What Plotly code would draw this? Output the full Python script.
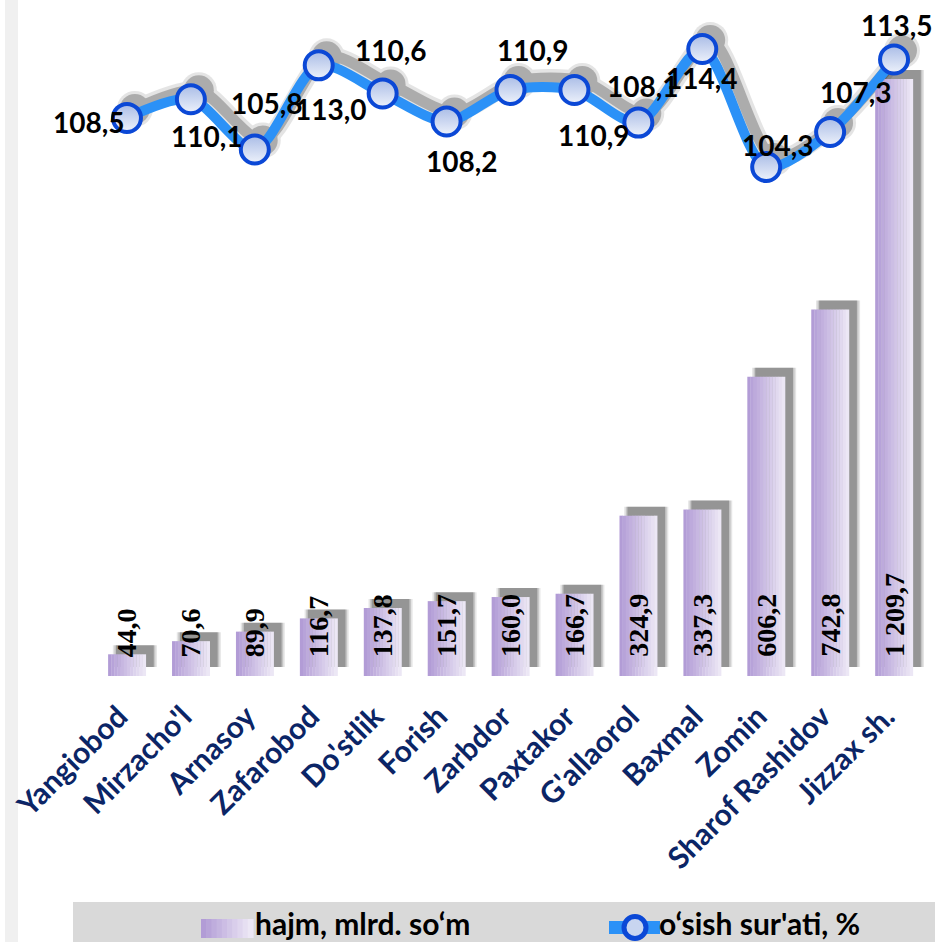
import plotly.graph_objects as go

# ---------------- data ----------------
districts = ["Yangiobod", "Mirzacho'l", "Arnasoy", "Zafarobod", "Do'stlik", "Forish",
             "Zarbdor", "Paxtakor", "G'allaorol", "Baxmal", "Zomin", "Sharof Rashidov",
             "Jizzax sh."]
volume = [44.0, 70.6, 89.9, 116.7, 137.8, 151.7, 160.0, 166.7, 324.9, 337.3, 606.2, 742.8, 1209.7]
volume_labels = ["44,0", "70,6", "89,9", "116,7", "137,8", "151,7", "160,0", "166,7",
                 "324,9", "337,3", "606,2", "742,8", "1 209,7"]
growth = [108.5, 110.1, 105.8, 113.0, 110.6, 108.2, 110.9, 110.9, 108.1, 114.4, 104.3, 107.3, 113.5]
growth_labels = ["108,5", "110,1", "105,8", "113,0", "110,6", "108,2", "110,9", "110,9",
                 "108,1", "114,4", "104,3", "107,3", "113,5"]
bar_name = "hajm, mlrd. so\u2018m"
line_name = "o\u2018sish sur'ati, %"

# label offsets (px) for the growth labels: (dx, dy) with dy upward positive
label_dx = [-38, 16, 12, 12, 8, 15, 22, 20, 5, 0, 12, 26, 3]
label_dy = [-4, -37, 46, -44, 43, -40, 40, -45, 37, -29, 22, 40, 35]

# ---------------- styling ----------------
n = len(districts)
BAR_W = 0.59
Y1_MAX = 1349.5
Y2_RANGE = [60.72, 117.74]
SHIFT_X = 0.124          # shadow offset in category units (~8px)
SHIFT_Y1 = 18.2          # shadow offset in bar units (~9px)
SHIFT_Y2 = 0.77          # shadow offset in growth units (~9px)
left_rgb = (178, 156, 214)
right_rgb = (236, 231, 245)
N_STRIPS = 12
LINE_COLOR = "#2b91f7"
MARKER_EDGE = "#0b48d6"


def strip_color(t):
    c = tuple(round(left_rgb[k] + (right_rgb[k] - left_rgb[k]) * t) for k in range(3))
    return f"rgb{c}"


fig = go.Figure()

# bar shadows (subplot x,y - drawn first, offset right/up through shifted axes)
for extra, alpha in [(0.10, 0.10), (0.05, 0.14), (0.0, 0.24)]:
    fig.add_trace(go.Bar(
        x=districts, y=volume, width=BAR_W + extra, offset=-(BAR_W + extra) / 2,
        marker=dict(color=f"rgba(0,0,0,{alpha})", line=dict(width=0)),
        xaxis="x", yaxis="y", showlegend=False, hoverinfo="skip"))

# gradient bars made of vertical strips (subplot x2,y2)
sw = BAR_W / N_STRIPS
for i in range(N_STRIPS):
    fig.add_trace(go.Bar(
        x=districts, y=volume, width=sw * 1.08, offset=-BAR_W / 2 + i * sw,
        marker=dict(color=strip_color(i / (N_STRIPS - 1)), line=dict(width=0)),
        xaxis="x2", yaxis="y2", name=bar_name, showlegend=False, hoverinfo="skip"))

# line shadow (subplot x,y3)
for w, ms, op in [(18, 36, 0.10), (11, 30, 0.24)]:
    fig.add_trace(go.Scatter(
        x=districts, y=growth, mode="lines+markers",
        line=dict(color="black", width=w, shape="spline", smoothing=0.8),
        marker=dict(color="black", size=ms),
        opacity=op, xaxis="x", yaxis="y3", showlegend=False, hoverinfo="skip"))

# growth line (subplot x2,y4)
fig.add_trace(go.Scatter(
    x=districts, y=growth, mode="lines+markers", name=line_name,
    line=dict(color=LINE_COLOR, width=10, shape="spline", smoothing=0.8),
    marker=dict(color="#a9bce6", size=28,
                gradient=dict(type="vertical", color="#eef2fb"),
                line=dict(color=MARKER_EDGE, width=4)),
    xaxis="x2", yaxis="y4", showlegend=False))

annotations = []
for d, lab in zip(districts, volume_labels):
    annotations.append(dict(
        x=d, y=0, xref="x2", yref="y2", text=lab, showarrow=False,
        textangle=-90, yanchor="bottom", xanchor="center", yshift=17,
        font=dict(family="Liberation Serif", size=28, color="black", weight="bold")))
for d, g, lab, dx, dy in zip(districts, growth, growth_labels, label_dx, label_dy):
    annotations.append(dict(
        x=d, y=g, xref="x2", yref="y4", text=lab, showarrow=False,
        xanchor="center", yanchor="middle", xshift=dx, yshift=dy,
        font=dict(family="Lato", size=28, color="black", weight="bold")))

# ---- legend (drawn manually, pixel-sized relative to the plot's bottom-left corner) ----
legend_font = dict(family="Lato", size=30, color="black", weight="bold")
annotations.append(dict(xref="paper", yref="paper", x=(250 - 90) / 836.4, y=(676 - 942) / 666,
                        xanchor="left", yanchor="bottom", borderpad=0, text=bar_name,
                        showarrow=False, font=legend_font))
annotations.append(dict(xref="paper", yref="paper", x=(657 - 90) / 836.4, y=(676 - 942) / 666,
                        xanchor="left", yanchor="bottom", borderpad=0, text=line_name,
                        showarrow=False, font=legend_font))


def px_rect(x0, x1, y0, y1, **kw):
    # pixel rectangle in figure pixels (top-left origin) -> shape anchored at the plot's bottom-left
    return dict(type="rect", xref="paper", yref="paper", xsizemode="pixel", ysizemode="pixel",
                xanchor=0, yanchor=0, x0=x0 - 90, x1=x1 - 90, y0=676 - y1, y1=676 - y0, **kw)


shapes = [
    # light strip at the left edge
    px_rect(0, 13, 0, 942, fillcolor="#f0f0f0", line=dict(width=0), layer="below"),
    # legend band
    px_rect(68, 935, 902, 942, fillcolor="#d9d9d9", line=dict(width=0), layer="below"),
]
NS = 10
for i in range(NS):
    x0 = 196 + i * 52 / NS
    shapes.append(px_rect(x0, x0 + 52 / NS + 0.6, 919, 938,
                          fillcolor=strip_color(i / (NS - 1)), line=dict(width=0), layer="above"))
shapes.append(dict(type="line", xref="paper", yref="paper", xsizemode="pixel", ysizemode="pixel",
                   xanchor=0, yanchor=0, x0=604 - 90, x1=655 - 90, y0=676 - 927.5, y1=676 - 927.5,
                   line=dict(color=LINE_COLOR, width=13), layer="above"))
shapes.append(dict(type="circle", xref="paper", yref="paper", xsizemode="pixel", ysizemode="pixel",
                   xanchor=0, yanchor=0, x0=619 - 90, x1=641 - 90, y0=676 - 938.5, y1=676 - 916.5,
                   fillcolor="#c8d5f0", line=dict(color=MARKER_EDGE, width=5), layer="above"))

fig.update_layout(
    width=935, height=942,
    margin=dict(l=90, r=9, t=10, b=266),
    paper_bgcolor="white", plot_bgcolor="rgba(0,0,0,0)",
    barmode="overlay",
    showlegend=False,
    xaxis=dict(type="category", categoryarray=districts, range=[-0.5 - SHIFT_X, n - 0.5 - SHIFT_X],
               visible=False),
    xaxis2=dict(type="category", categoryarray=districts, range=[-0.5, n - 0.5],
                overlaying="x", anchor="y", side="bottom",
                showgrid=False, showline=False, zeroline=False, ticks="",
                tickangle=-45, ticklabelstandoff=16, ticklabelshift=-8,
                tickfont=dict(family="Lato", size=30, color="#0b2566", weight="bold")),
    yaxis=dict(range=[-SHIFT_Y1, Y1_MAX - SHIFT_Y1], visible=False),
    yaxis2=dict(range=[0, Y1_MAX], overlaying="y", visible=False),
    yaxis3=dict(range=[Y2_RANGE[0] - SHIFT_Y2, Y2_RANGE[1] - SHIFT_Y2], overlaying="y", visible=False),
    yaxis4=dict(range=Y2_RANGE, overlaying="y", visible=False),
    annotations=annotations,
    shapes=shapes,
)

fig.write_html("out.html", config={"displayModeBar": False},
               post_script="document.body.style.margin='0';document.body.style.overflow='hidden';")
